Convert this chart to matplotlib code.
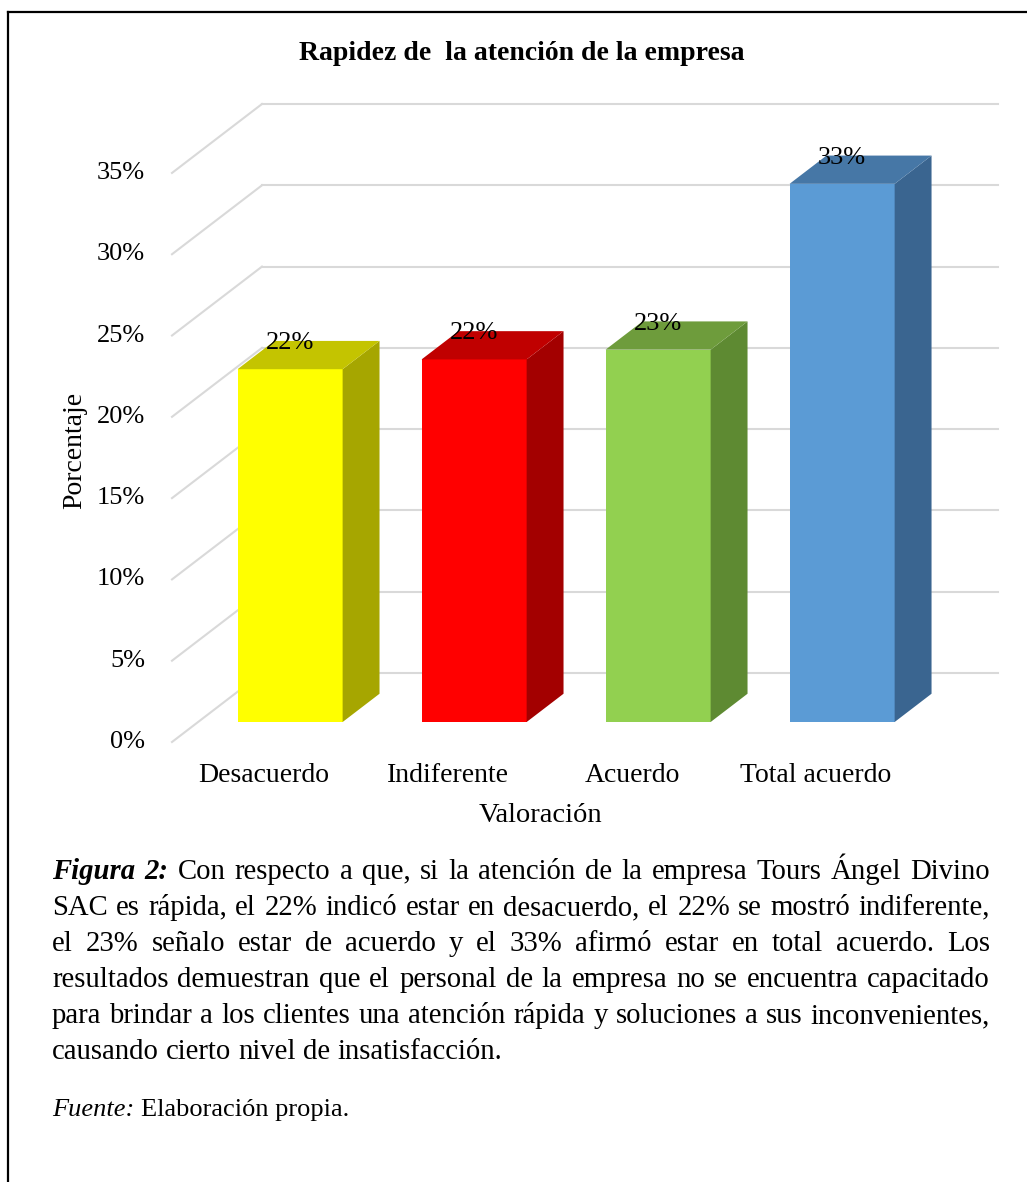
import matplotlib
matplotlib.use('Agg')
import matplotlib.pyplot as plt
from matplotlib.patches import Polygon
from matplotlib.lines import Line2D

# datos del grafico
categorias = ['Desacuerdo', 'Indiferente', 'Acuerdo', 'Total acuerdo']
porcentajes = [21.7, 22.3, 22.9, 33.1]
etiquetas = ['22%', '22%', '23%', '33%']
niveles = [0, 5, 10, 15, 20, 25, 30, 35]
col_frente = ['#FFFF00', '#FF0000', '#92D050', '#5B9BD5']
col_arriba = ['#C4C400', '#C00000', '#6E9C3C', '#4677A6']
col_lado = ['#A6A600', '#A30000', '#5E8A32', '#3A6590']

titulo = 'Rapidez de  la atención de la empresa'
lineas = [
    [('Figura', 'bi'), ('2:', 'bi'), ('Con', 'n'), ('respecto', 'n'), ('a', 'n'), ('que,', 'n'),
     ('si', 'n'), ('la', 'n'), ('atención', 'n'), ('de', 'n'), ('la', 'n'), ('empresa', 'n'),
     ('Tours', 'n'), ('Ángel', 'n'), ('Divino', 'n')],
    'SAC es rápida, el 22% indicó estar en desacuerdo, el 22% se mostró indiferente,',
    'el 23% señalo estar de acuerdo y el 33% afirmó estar en total acuerdo. Los',
    'resultados demuestran que el personal de la empresa no se encuentra capacitado',
    'para brindar a los clientes una atención rápida y soluciones a sus inconvenientes,',
    'causando cierto nivel de insatisfacción.',
]

plt.rcParams['font.family'] = ['Liberation Serif', 'DejaVu Serif']

W, H = 1027, 1182
fig = plt.figure(figsize=(W / 100, H / 100), dpi=100)


def fx(px):
    return px / W


def fy(py):
    return 1 - py / H


# marco de la figura (solo se ve arriba y a la izquierda)
fig.add_artist(Line2D([fx(8), fx(8)], [fy(12), 0], color='black', lw=1.6, transform=fig.transFigure))
fig.add_artist(Line2D([fx(8), 1], [fy(12), fy(12)], color='black', lw=1.6, transform=fig.transFigure))

# profundidad de la caja 3D en unidades de datos
DX, DY = 0.489, 4.24
ax = fig.add_axes([fx(172), fy(742), fx(998) - fx(172), fy(104) - fy(742)])
ax.set_xlim(0, 4 + DX)
ax.set_ylim(0, 35 + DY)
ax.axis('off')

gris = '#D9D9D9'
for n in niveles:
    ax.plot([0, DX], [n, n + DY], color=gris, lw=1.5, zorder=1, clip_on=False)
    ax.plot([DX, 4 + DX], [n + DY, n + DY], color=gris, lw=1.5, zorder=1, clip_on=False)
    ax.text(-0.147, n, f'{n}%', ha='right', va='center', fontsize=19, clip_on=False)

# barras con cara frontal, lateral y superior
d1, d2 = 0.29, 0.70
ancho_barra = 0.571
for i, v in enumerate(porcentajes):
    x0 = i + (1 - ancho_barra) / 2
    x1 = x0 + ancho_barra
    fx0, fy0 = x0 + d1 * DX, d1 * DY
    fx1 = x1 + d1 * DX
    bx1, by0 = x1 + d2 * DX, d2 * DY
    bx0 = x0 + d2 * DX
    ax.add_patch(Polygon([(fx0, fy0), (fx1, fy0), (fx1, v + fy0), (fx0, v + fy0)],
                         closed=True, facecolor=col_frente[i], edgecolor='none', zorder=3))
    ax.add_patch(Polygon([(fx1, fy0), (bx1, by0), (bx1, v + by0), (fx1, v + fy0)],
                         closed=True, facecolor=col_lado[i], edgecolor='none', zorder=3))
    ax.add_patch(Polygon([(fx0, v + fy0), (fx1, v + fy0), (bx1, v + by0), (bx0, v + by0)],
                         closed=True, facecolor=col_arriba[i], edgecolor='none', zorder=3))
    ax.text((fx0 + fx1) / 2, v + fy0 + 1.6, etiquetas[i], ha='center', va='center',
            fontsize=19, zorder=5)
    ax.text(i + 0.5, -2.03, categorias[i], ha='center', va='center', fontsize=20, clip_on=False)

ax.text(2, -4.49, 'Valoración', ha='center', va='center', fontsize=20.5, clip_on=False)
fig.text(fx(75), fy(450), 'Porcentaje', rotation=90, ha='center', va='center', fontsize=20)
fig.text(fx(522), fy(53), titulo, ha='center', va='center', fontsize=20, fontweight='bold')

# texto de la figura, justificado a mano
renderer = fig.canvas.get_renderer()
tam = 20.7
estilos = {'n': dict(), 'bi': dict(fontweight='bold', fontstyle='italic'),
           'i': dict(fontstyle='italic')}


def ancho(t, size, st):
    tx = fig.text(0, 0, t, fontsize=size, **estilos[st])
    w = tx.get_window_extent(renderer).width
    tx.remove()
    return w


esp = ancho('x x', tam, 'n') - ancho('xx', tam, 'n')
izq, der = 52, 990
base = 879
for k, linea in enumerate(lineas):
    if isinstance(linea, str):
        palabras = [(p, 'n') for p in linea.split()]
    else:
        palabras = linea
    anchos = [ancho(p, tam, st) for p, st in palabras]
    if k < len(lineas) - 1:
        hueco = (der - izq - sum(anchos)) / (len(palabras) - 1)
    else:
        hueco = esp
    x = izq
    for (p, st), w in zip(palabras, anchos):
        fig.text(fx(x), fy(base + 36 * k), p, fontsize=tam, va='baseline', **estilos[st])
        x += w + hueco

tam_f = 19
fig.text(fx(izq), fy(1116), 'Fuente:', fontsize=tam_f, va='baseline', fontstyle='italic')
w_f = ancho('Fuente:', tam_f, 'i') + ancho('x x', tam_f, 'n') - ancho('xx', tam_f, 'n')
fig.text(fx(izq + w_f), fy(1116), 'Elaboración propia.', fontsize=tam_f, va='baseline')

fig.savefig('out.png', dpi=100)
